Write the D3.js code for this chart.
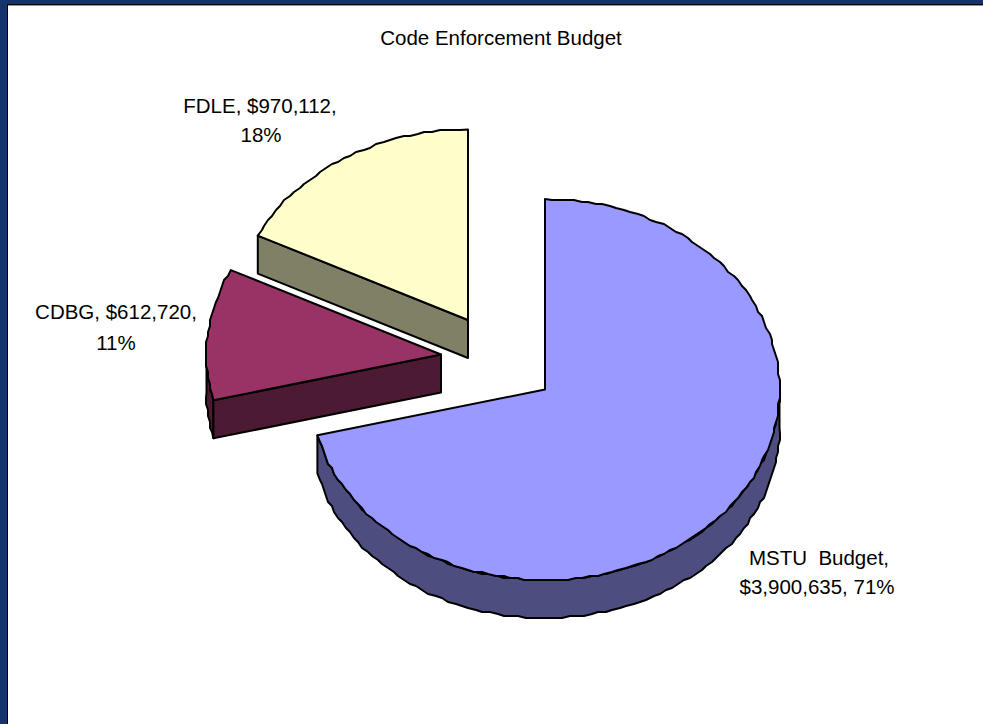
<!DOCTYPE html>
<html><head><meta charset="utf-8">
<script src="https://cdn.jsdelivr.net/npm/d3@7/dist/d3.min.js"></script>
<style>html,body{margin:0;padding:0;background:#fff}svg{display:block}text{font-family:"Liberation Sans",Arial,sans-serif;font-size:20.5px;fill:#000;white-space:pre}</style>
</head><body><svg id="c" width="983" height="724"></svg>
<script>
const categories = ["MSTU Budget", "CDBG", "FDLE"];
const values = [3900635, 612720, 970112];
const valueLabels = ["$3,900,635", "$612,720", "$970,112"];
const percentLabels = ["71%", "11%", "18%"];
const topColors = ["#9999ff", "#993366", "#ffffcc"];
const sideColors = ["#4d4d80", "#4d1a33", "#808066"];
const title = "Code Enforcement Budget";

const svg = d3.select("#c");
svg.append("rect").attr("width",983).attr("height",724).attr("fill","#17336b");
svg.append("rect").attr("x",7).attr("y",4).attr("width",976).attr("height",720).attr("fill","#000");
svg.append("rect").attr("x",8).attr("y",5.4).attr("width",975).attr("height",719).attr("fill","#fff");

const rx = 234.5, ry = 190.5, depth = 38;
const centers = [[545,389.5],[441,354.5],[468,320]];
const arcs = d3.pie().sort(null).value(d=>d)(values);
const line = d3.line();
const pt = (c,a,dz=0)=>[c[0]+rx*Math.sin(a), c[1]-ry*Math.cos(a)+dz];
// Arc outline snapped to a 2px grid, like the stepped outline of the source.
const snap = p=>[Math.round(p[0]/2)*2, Math.round(p[1]/2)*2];
const arcPts = (c,a0,a1,dz=0)=>{
  const n=Math.max(2,Math.ceil(Math.abs(a1-a0)*32));
  return d3.range(n+1).map(i=>{
    const p=pt(c,a0+(a1-a0)*i/n,dz);
    return (i===0||i===n)?p:snap(p);
  });
};
const draw = (pts,fill)=>svg.append("path").attr("d",line(pts)+"Z").attr("fill",fill)
  .attr("stroke","#000").attr("stroke-width",2).attr("stroke-linejoin","round");

// draw back-to-front: FDLE, CDBG, MSTU
[2,1,0].forEach(i=>{
  const c=centers[i], a=arcs[i], a0=a.startAngle, a1=a.endAngle;
  const r0=Math.max(a0,Math.PI/2), r1=Math.min(a1,Math.PI*3/2);
  if(r1>r0) draw([...arcPts(c,r0,r1,0),...arcPts(c,r1,r0,depth)],sideColors[i]);
  if(i>0){
    const p=pt(c,a0);
    draw([c,p,[p[0],p[1]+depth],[c[0],c[1]+depth]],sideColors[i]);
  }
  draw([c,...arcPts(c,a0,a1)],topColors[i]);
});

const T=(x,y,s)=>svg.append("text").attr("x",x).attr("y",y).attr("text-anchor","middle").text(s);
T(501,45,title);
T(260,113,categories[2]+", "+valueLabels[2]+",");
T(261,142,percentLabels[2]);
T(116,319,categories[1]+", "+valueLabels[1]+",");
T(116,350,percentLabels[1]);
T(819,565,"MSTU  Budget,");
T(817,594,valueLabels[0]+", "+percentLabels[0]);
</script></body></html>
